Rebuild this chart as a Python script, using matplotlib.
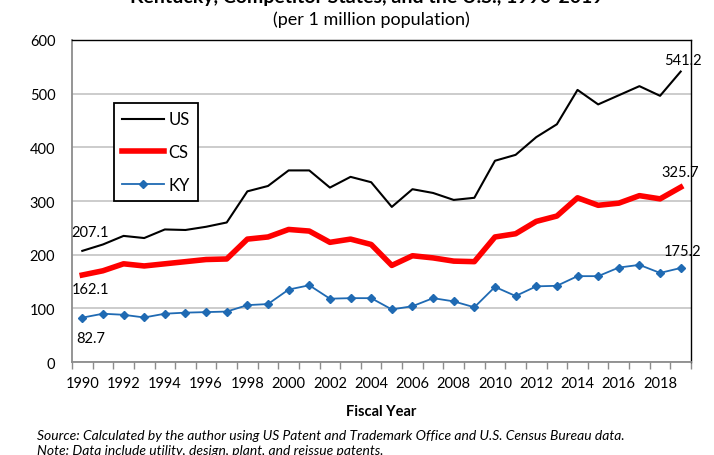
import matplotlib
matplotlib.use("Agg")
import matplotlib.pyplot as plt
from matplotlib.ticker import MultipleLocator, FixedLocator

plt.rcParams["font.family"] = ["Lato", "DejaVu Sans"]

years = list(range(1990, 2020))
us = [207.1, 219, 235, 231, 247, 246, 252, 260, 318, 328,
      357, 357, 325, 345, 335, 289, 322, 315, 302, 306,
      375, 386, 419, 443, 507, 480, 497, 514, 496, 541.2]
cs = [162.1, 170, 183, 179, 183, 187, 191, 192, 229, 233,
      247, 244, 223, 229, 219, 180, 198, 194, 188, 187,
      233, 239, 262, 272, 306, 292, 296, 310, 304, 325.7]
ky = [82.7, 90, 88, 83, 90, 92, 93, 94, 106, 108,
      135, 143, 118, 119, 119, 98, 104, 119, 113, 102,
      140, 123, 141, 142, 160, 160, 176, 181, 166, 175.2]

fig = plt.figure(figsize=(7.14, 4.56), dpi=100)
ax = fig.add_axes([0.1008, 0.2039, 0.8670, 0.7062])

ax.plot(years, us, color="black", lw=1.5, label="US", zorder=3)
ax.plot(years, cs, color="#ff0000", lw=4, label="CS", zorder=3)
ax.plot(years, ky, color="#1f6ab3", lw=1.3, marker="D", markersize=4.5,
        label="KY", zorder=3)

ax.set_xlim(1989.5, 2019.5)
ax.set_ylim(0, 600)
ax.yaxis.set_major_locator(MultipleLocator(100))
ax.set_xticks(years[::2])
ax.xaxis.set_minor_locator(FixedLocator([y - 0.5 for y in years] + [2019.5]))
ax.tick_params(axis="x", which="major", length=0, labelsize=10.5, pad=10)
ax.tick_params(axis="x", which="minor", length=5, width=1, color="#8c8c8c",
               direction="out")
ax.tick_params(axis="y", length=0, labelsize=10.5, pad=12)
ax.grid(axis="y", color="#c8c8c8", lw=1.3, zorder=0)

for side in ["top", "right"]:
    ax.spines[side].set_color("black")
    ax.spines[side].set_linewidth(1)
for side in ["left", "bottom"]:
    ax.spines[side].set_color("#8c8c8c")
    ax.spines[side].set_linewidth(1.3)

# end-point value labels
lbl = dict(textcoords="offset pixels", ha="center", va="center", fontsize=10.5)
ax.annotate(f"{us[0]}", (years[0], us[0]), xytext=(8, 19), **lbl)
ax.annotate(f"{cs[0]}", (years[0], cs[0]), xytext=(8, -14), **lbl)
ax.annotate(f"{ky[0]}", (years[0], ky[0]), xytext=(8, -20), **lbl)
ax.annotate(f"{us[-1]}", (years[-1], us[-1]), xytext=(2, 12), **lbl)
ax.annotate(f"{cs[-1]}", (years[-1], cs[-1]), xytext=(0, 15), **lbl)
ax.annotate(f"{ky[-1]}", (years[-1], ky[-1]), xytext=(2, 17), **lbl)

leg = ax.legend(loc="upper left", bbox_to_anchor=(0.068, 0.804), fontsize=12,
                handlelength=2.5, labelspacing=1.0, borderpad=0.5,
                borderaxespad=0, handletextpad=0.25, fancybox=False,
                framealpha=1)
leg.get_frame().set_edgecolor("black")
leg.get_frame().set_linewidth(1.3)

ax.set_xlabel("Fiscal Year", fontsize=10.5, fontweight="bold", labelpad=10)

fig.text(0.514, 1 - 3 / 456, "Kentucky, Competitor States, and the U.S., 1990-2019",
         ha="center", va="baseline", fontsize=14, fontweight="bold")
fig.text(0.52, 1 - 25 / 456, "(per 1 million population)",
         ha="center", va="baseline", fontsize=13)
fig.text(0.052, 1 - 440 / 456,
         "Source: Calculated by the author using US Patent and Trademark Office and U.S. Census Bureau data.",
         ha="left", va="baseline", fontsize=10, style="italic")
fig.text(0.052, 0.002,
         "Note: Data include utility, design, plant, and reissue patents.",
         ha="left", va="baseline", fontsize=10, style="italic")

fig.savefig("out.png", dpi=100)
